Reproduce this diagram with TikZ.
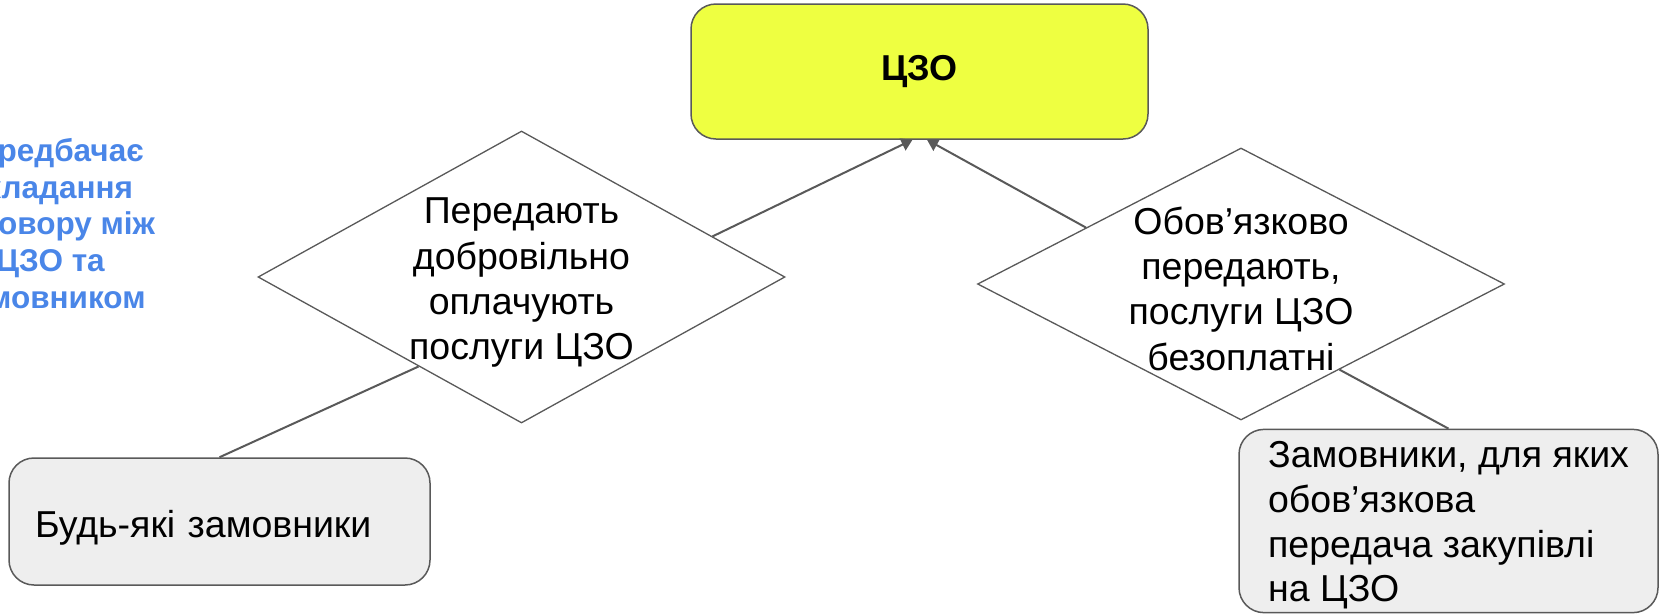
\documentclass[tikz,border=0pt]{standalone}
\usepackage{fontspec}
\setmainfont{Liberation Sans}
\usetikzlibrary{shapes.geometric,arrows.meta,positioning}
\definecolor{czoyellow}{RGB}{238,255,65}
\definecolor{boxgray}{RGB}{238,238,238}
\definecolor{linegray}{RGB}{89,89,89}
\definecolor{noteblue}{RGB}{74,134,232}
\tikzset{
  czobox/.style={rectangle, rounded corners=25pt, draw=linegray, line width=1.5pt,
    fill=czoyellow, font=\fontsize{36}{42}\selectfont\bfseries},
  rombus/.style={shape=diamond, draw=linegray, line width=1.3pt, fill=white,
    inner sep=-30pt, align=center, font=\fontsize{37.5}{45.2}\selectfont},
  custbox/.style={rectangle, rounded corners=25pt, draw=linegray, line width=1.5pt,
    fill=boxgray, align=left, font=\fontsize{37.5}{44.7}\selectfont},
  note/.style={align=center, inner sep=0pt, text=noteblue,
    font=\fontsize{31.5}{36.8}\selectfont\bfseries},
  arr/.style={draw=linegray, line width=2pt, -{Triangle[length=11pt,width=13pt]}},
  lnk/.style={draw=linegray, line width=2pt}
}
\begin{document}
\begin{tikzpicture}[x=1pt,y=-1pt]
\useasboundingbox (0,0) rectangle (1659,614);
\clip (0,0) rectangle (1659,614);
% ЦЗО
\node[czobox, minimum width=457pt, minimum height=135pt] (czo) at (919.5,71.5) {ЦЗО};
% ромби
\node[rombus, minimum width=527pt, minimum height=292pt, aspect=1.8] (dl) at (521.5,277)
  {\rule{0pt}{37pt}Передають\\добровільно\\оплачують\\послуги ЦЗО};
\node[rombus, minimum width=527pt, minimum height=272pt, aspect=1.94] (dr) at (1241,284)
  {\rule{0pt}{37pt}Обов’язково\\передають,\\послуги ЦЗО\\безоплатні};
% замовники
\node[custbox, minimum width=421pt, minimum height=127pt, text width=369pt, inner xsep=26pt,
  text height=31pt, text depth=0pt] (bl) at (219.5,521.5) {Будь-які замовники};
\node[custbox, minimum width=419pt, minimum height=180pt] (br) at (1448.5,521)
  {\rule{0pt}{35pt}Замовники, для яких\\обов’язкова\\передача закупівлі\\на ЦЗО};
% примітка зліва
\node[note] (nt) at (50.5,223.5) {Передбачає\\укладання\\договору між\\ЦЗО та\\замовником};
% зв'язки
\draw[arr] (dl.12.8) -- ([xshift=-7pt]czo.south);
\draw[arr] (dr.160.3) -- ([xshift=7.5pt]czo.south);
\draw[lnk] (bl.north) -- (dl.221.6);
\draw[lnk] (br.north) -- (dr.-41.5);
\end{tikzpicture}
\end{document}
